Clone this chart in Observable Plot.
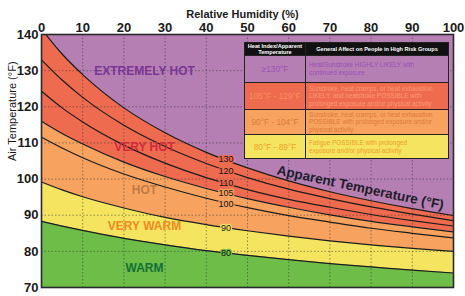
<!DOCTYPE html>
<html><head><meta charset="utf-8">
<script src="https://cdn.jsdelivr.net/npm/d3@7"></script>
<script src="https://cdn.jsdelivr.net/npm/@observablehq/plot@0.6"></script>
<style>
body{margin:0;background:#fff;}
#wrap{position:relative;width:465px;height:296px;font-family:"Liberation Sans",Arial,sans-serif;}
#legend{position:absolute;left:244px;top:42px;width:205px;display:grid;grid-template-columns:60px 1fr;
  grid-template-rows:12px 26px 26px 24px 23px;background:#222;gap:1px;border:1.5px solid #222;box-sizing:border-box;}
#legend div{display:flex;align-items:center;box-sizing:border-box;}
#legend .hdr{background:#111;color:#fff;font-weight:bold;font-size:5.6px;line-height:6px;justify-content:center;text-align:center;}
#legend .rng{justify-content:center;font-size:8.3px;white-space:nowrap;}
#legend .eff{padding-left:3px;font-size:6.4px;line-height:7.6px;}
</style></head><body><div id="wrap"></div>
<script>
// Relative humidity (%) sample points
const humidity = [0, 5, 10, 20, 30, 40, 50, 60, 70, 80, 90, 100];
// Air temperature (°F) along each apparent-temperature curve
const t130 = [141.5, 134.6, 128.9, 119.7, 112.8, 107.4, 103.1, 99.5, 96.5, 94.0, 91.8, 89.9];
const t120 = [133.0, 127.4, 122.6, 114.9, 109.0, 104.3, 100.4, 97.2, 94.6, 92.3, 90.3, 88.5];
const t110 = [124.3, 119.7, 115.8, 109.4, 104.4, 100.4, 97.1, 94.4, 92.2, 90.2, 88.5, 87.0];
const t105 = [116.0, 112.6, 109.7, 104.7, 100.7, 97.4, 94.6, 92.2, 90.1, 88.3, 86.8, 85.4];
const t100 = [111.6, 108.6, 105.9, 101.4, 97.8, 94.7, 92.1, 89.9, 88.1, 86.4, 85.0, 83.7];
const t90  = [99.2, 97.0, 95.1, 92.0, 89.4, 87.4, 85.7, 84.2, 82.9, 81.8, 80.8, 80.0];
const t80  = [88.3, 87.0, 85.8, 83.6, 81.8, 80.2, 78.9, 77.7, 76.6, 75.7, 74.8, 74.0];

const curveNames = ["130", "120", "110", "105", "100", "90", "80"];
const curveLabelHum = 44.8;
const curveLabelT = [105.4, 102.2, 98.8, 96.0, 93.1, 86.5, 79.6];

const xTicks = [0, 10, 20, 30, 40, 50, 60, 70, 80, 90, 100];
const yTicks = [70, 80, 90, 100, 110, 120, 130, 140];
const xGrid = [10, 20, 30, 40, 50, 60, 70, 80, 90];
const yGrid = [80, 90, 100, 110, 120, 130];

const zoneNames = ["EXTREMELY HOT", "VERY HOT", "HOT", "VERY WARM", "WARM"];
const zoneHum = 25;
const zoneT = [129.8, 108.8, 97.0, 87.1, 75.4];

const legendRanges = ["≥130°F", "105°F - 129°F", "90°F - 104°F", "80°F - 89°F"];
const legendEffects = [
  "Heat/Sunstroke HIGHLY LIKELY with<br>continued exposure",
  "Sunstroke, heat cramps, or heat exhaustion<br>LIKELY, and heatstroke POSSIBLE with<br>prolonged exposure and/or physical activity",
  "Sunstroke, heat cramps, or heat exhaustion<br>POSSIBLE with prolonged exposure and/or<br>physical activity",
  "Fatigue POSSIBLE with prolonged<br>exposure and/or physical activity"
];
const legendHeaders = ["Heat Index/Apparent<br>Temperature", "General Affect on People in High Risk Groups"];

const titleX = "Relative Humidity (%)";
const titleY = "Air Temperature (°F)";
const curveTitle = "Apparent Temperature (°F)";
const curveTitlePos = {h: 77.4, t: 97.6};

// styles
const C = {purple:"#b57fb3", red:"#ef6b50", orange:"#f7a35f", yellow:"#f5e460", green:"#6ebd48"};
const zoneColors = ["#7b3595", "#cf2a3c", "#c27a45", "#f28a1e", "#13703a"];
const haloColors = [C.red, C.red, C.red, C.orange, C.orange, C.yellow, C.green];
const legendBg = [C.purple, C.red, C.orange, C.yellow];
const legendRangeColor = ["#9a4fb5", "#f9905f", "#dd7a3a", "#efa028"];
const legendEffColor = ["#9a4fb5", "#fb9a70", "#e0783a", "#efa028"];

const yDomain = [70, 140];
const rows = humidity.map((h, i) => ({h, t130: t130[i], t120: t120[i], t110: t110[i], t105: t105[i],
  t100: t100[i], t90: t90[i], t80: t80[i], bottom: yDomain[0]}));
const keys = ["t130", "t120", "t110", "t105", "t100", "t90", "t80"];
const curveLabels = curveNames.map((n, i) => ({n, h: curveLabelHum, t: curveLabelT[i], halo: haloColors[i]}));
const zones = zoneNames.map((n, i) => ({n, h: zoneHum, t: zoneT[i], c: zoneColors[i]}));

const font = '"Liberation Sans", Arial, sans-serif';
const cv = "monotone-x";

const chart = Plot.plot({
  width: 465, height: 296,
  marginLeft: 41, marginRight: 12, marginTop: 34, marginBottom: 9,
  style: {fontFamily: font, background: "transparent", overflow: "visible"},
  x: {domain: [0, 100]},
  y: {domain: yDomain},
  marks: [
    Plot.frame({fill: C.purple}),
    Plot.areaY(rows, {x: "h", y1: "t105", y2: "t130", fill: C.red, curve: cv, clip: true}),
    Plot.areaY(rows, {x: "h", y1: "t90", y2: "t105", fill: C.orange, curve: cv, clip: true}),
    Plot.areaY(rows, {x: "h", y1: "t80", y2: "t90", fill: C.yellow, curve: cv, clip: true}),
    Plot.areaY(rows, {x: "h", y1: "bottom", y2: "t80", fill: C.green, curve: cv, clip: true}),
    Plot.ruleX(xGrid, {stroke: "#333", strokeOpacity: 0.65, strokeDasharray: "1.5,2", strokeWidth: 0.8}),
    Plot.ruleY(yGrid, {stroke: "#333", strokeOpacity: 0.65, strokeDasharray: "1.5,2", strokeWidth: 0.8}),
    ...keys.map(k => Plot.lineY(rows, {x: "h", y: k, stroke: "#1c1c1c", strokeWidth: 1.2, curve: cv, clip: true})),
    Plot.text(curveLabels, {x: "h", y: "t", text: "n", fontSize: 9, fill: "#111", stroke: "halo", strokeWidth: 2.5}),
    Plot.text(zones, {x: "h", y: "t", text: "n", fill: "c", fontSize: 12, fontWeight: "bold"}),
    Plot.text([curveTitle], {x: () => curveTitlePos.h, y: () => curveTitlePos.t, fontSize: 13.5, fontWeight: "bold",
      fill: "#1d1d2b", rotate: 12}),
    Plot.axisX({anchor: "top", ticks: xTicks, tickSize: 0, tickPadding: 3, fontSize: 13, fontWeight: "bold",
      fill: "#1a1a1a", label: null}),
    Plot.axisY({anchor: "left", ticks: yTicks, tickSize: 0, tickPadding: 3, fontSize: 13, fontWeight: "bold",
      fill: "#1a1a1a", label: null}),
    Plot.text([titleX], {frameAnchor: "top", dy: -24.5, dx: -5, fontSize: 11, fontWeight: "bold", fill: "#1a1a1a"}),
    Plot.text([titleY], {frameAnchor: "left", dx: -29, rotate: -90, fontSize: 11, fill: "#1a1a1a"}),
    Plot.frame({stroke: "#2a2a2a", strokeWidth: 1.6})
  ]
});
const wrap = document.getElementById("wrap");
wrap.appendChild(chart);

const lg = document.createElement("div");
lg.id = "legend";
let html = `<div class="hdr">${legendHeaders[0]}</div><div class="hdr">${legendHeaders[1]}</div>`;
legendRanges.forEach((r, i) => {
  html += `<div class="rng" style="background:${legendBg[i]};color:${legendRangeColor[i]}">${r}</div>`;
  html += `<div class="eff" style="background:${legendBg[i]};color:${legendEffColor[i]}">${legendEffects[i]}</div>`;
});
lg.innerHTML = html;
wrap.appendChild(lg);
</script></body></html>
